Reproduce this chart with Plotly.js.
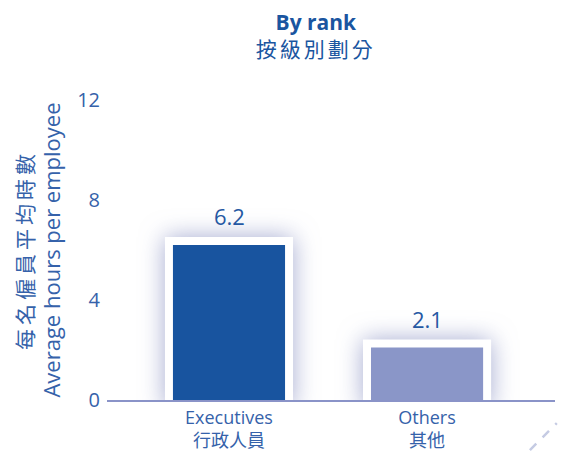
<!DOCTYPE html>
<html><head><meta charset="utf-8">
<script src="https://cdn.plot.ly/plotly-3.0.1.min.js"></script>
<style>html,body{margin:0;padding:0;background:#fff}#chart{width:561px;height:456px}</style>
</head><body><div id="chart"></div>
<script>
const categories = ["Executives<br>行政人員", "Others<br>其他"];
const values = [6.2, 2.1];
const valueLabels = ["6.2", "2.1"];
const barColors = ["#18549f", "#8a96c8"];
const yTicks = [0, 4, 8, 12];

const FONT = "'Open Sans', 'Noto Sans CJK TC', sans-serif";
const BLUE = "#2558a3";

const backing = {
  type: "bar", x: categories, y: values, width: 0.566,
  marker: {color: "#ffffff", line: {color: "#ffffff", width: 16}},
  hoverinfo: "skip", showlegend: false
};
const bars = {
  type: "bar", x: categories, y: values, width: 0.566,
  marker: {color: barColors, line: {width: 0}},
  showlegend: false
};

const annotations = categories.map((c, i) => ({
  x: c, y: values[i], text: valueLabels[i], showarrow: false,
  yshift: 29, font: {family: FONT, size: 22, color: BLUE}
}));

const layout = {
  width: 561, height: 456,
  margin: {l: 107, r: 6, t: 100, b: 56},
  paper_bgcolor: "#ffffff", plot_bgcolor: "rgba(0,0,0,0)",
  barmode: "overlay",
  title: {
    text: "<b>By rank</b><br><span style=\"letter-spacing:3px\">按級別劃分</span>",
    font: {family: FONT, size: 21, color: "#1a55a0"},
    x: 0.563, xref: "container", xanchor: "center",
    y: 0.934, yref: "container", yanchor: "middle"
  },
  xaxis: {
    type: "category", range: [-0.616, 1.646],
    showline: true, linecolor: "#8a93c8", linewidth: 2,
    showgrid: false, zeroline: false, ticks: "",
    ticklabelstandoff: 0,
    tickfont: {family: FONT, size: 18, color: "#3562aa"}, layer: "above traces"
  },
  yaxis: {
    range: [0, 12], tickvals: yTicks, ticktext: yTicks.map(String),
    showline: false, showgrid: false, zeroline: false, ticks: "",
    ticklabelstandoff: 6,
    tickfont: {family: FONT, size: 20, color: "#3562aa"},
    title: {text: "<span style=\"letter-spacing:4px\">每名僱員平均時數</span><br><span style=\"font-size:22px\">Average hours per employee</span>",
            font: {family: FONT, size: 21, color: "#3562aa"}, standoff: 10}
  },
  annotations: annotations,
  shapes: [{type: "line", xref: "paper", yref: "paper", x0: 0.944, y0: -0.167, x1: 1.004, y1: -0.077,
            line: {color: "#c5cbe3", width: 2.5, dash: "dash"}}]
};

Plotly.newPlot("chart", [backing, bars], layout, {displayModeBar: false, staticPlot: true}).then(() => {
  document.querySelectorAll(".barlayer .trace.bars").forEach((t, i) => {
    if (i === 0) t.querySelectorAll("path").forEach(p => {
      p.style.filter = "drop-shadow(0 0 12px rgba(90,100,170,0.55))";
    });
  });
});
</script></body></html>
